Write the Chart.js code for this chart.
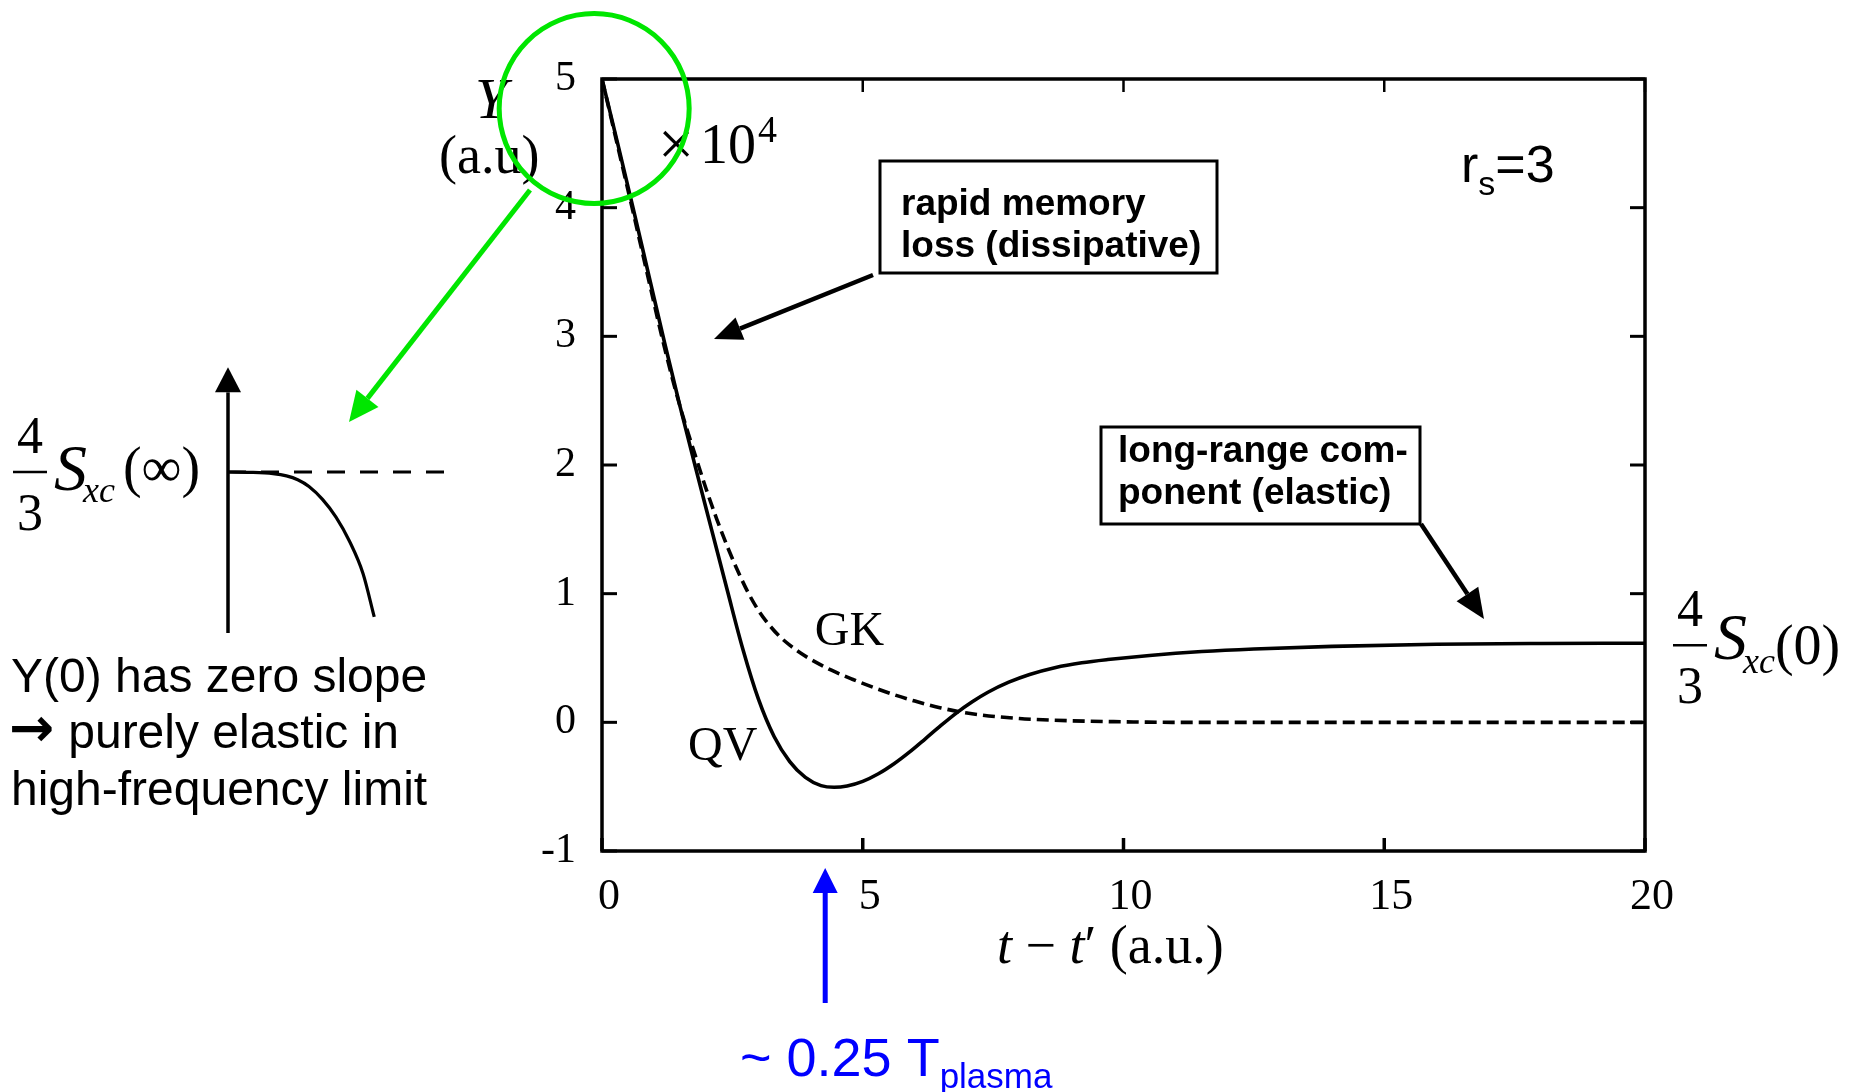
<!DOCTYPE html>
<html>
<head>
<meta charset="utf-8">
<title>Y(t - t') memory kernel, rs=3</title>
<script src="https://cdn.jsdelivr.net/npm/chart.js@4.4.1/dist/chart.umd.min.js"></script>
<style>
  html, body { margin: 0; padding: 0; background: #fff; }
  #wrap { position: relative; width: 1850px; height: 1092px; overflow: hidden; }
  canvas { position: absolute; }
  #mainChart { left: 0; top: 0; }
  #insetChart { left: 180px; top: 340px; }
</style>
</head>
<body>
<div id="wrap">
  <canvas id="mainChart" width="1850" height="1092"></canvas>
  <canvas id="insetChart" width="300" height="320"></canvas>
</div>
<script>
// QV kernel (solid)
const tQV = [0, 0.3, 0.6, 0.9, 1.2, 1.5, 1.8, 2.1, 2.4, 2.7, 3.0, 3.3, 3.6, 3.9, 4.2, 4.45, 4.7, 5.0, 5.3, 5.6,
             5.9, 6.2, 6.5, 6.8, 7.1, 7.4, 7.8, 8.2, 8.7, 9.2, 9.7, 10.5, 11.5, 12.5, 14, 16, 18, 20];
const yQV = [5, 4.5, 3.99, 3.47, 2.95, 2.45, 1.97, 1.5, 1.03, 0.57, 0.18, -0.11, -0.305, -0.428, -0.492, -0.505, -0.495, -0.459, -0.4, -0.322,
             -0.23, -0.128, -0.024, 0.074, 0.16, 0.234, 0.312, 0.372, 0.427, 0.463, 0.488, 0.52, 0.55, 0.57, 0.59, 0.607, 0.613, 0.615];

// GK kernel (dashed)
const tGK = [0, 0.3, 0.6, 0.9, 1.2, 1.5, 1.8, 2.0, 2.2, 2.4, 2.6, 2.8, 3.0, 3.2, 3.4, 3.6, 3.8, 4.0, 4.4, 4.8,
             5.2, 5.6, 6.0, 6.5, 7.0, 8.0, 9.0, 10, 11, 13, 20];
const yGK = [5, 4.48, 3.96, 3.43, 2.91, 2.45, 2.06, 1.81, 1.58, 1.37, 1.18, 1.01, 0.87, 0.76, 0.67, 0.6, 0.54, 0.49, 0.405, 0.335,
             0.272, 0.215, 0.165, 0.112, 0.072, 0.03, 0.012, 0.004, 0, 0, 0];

const xTicks = [0, 5, 10, 15, 20];
const yTicks = [-1, 0, 1, 2, 3, 4, 5];
const plateauQV = 0.615;    // 4/3 Sxc(0)
const quarterPeriod = 4.28; // ~0.25 T_plasma

// small sketch of Y near t = 0 (left)
const insetX = [0, 0.1, 0.2, 0.26, 0.31, 0.36, 0.42, 0.48, 0.54, 0.6, 0.65];
const insetY = [1, 0.998, 0.99, 0.976, 0.952, 0.91, 0.83, 0.72, 0.57, 0.37, 0.1];
const insetLevelX = [0, 1];
const insetLevelY = [1, 1];

const SERIF = "'Liberation Serif', 'DejaVu Serif', serif";
const SANS = "'Liberation Sans', Arial, sans-serif";

const toPts = (xs, ys) => xs.map((x, i) => ({ x: x, y: ys[i] }));

function line(ctx, x1, y1, x2, y2) {
  ctx.beginPath(); ctx.moveTo(x1, y1); ctx.lineTo(x2, y2); ctx.stroke();
}

function arrow(ctx, x1, y1, x2, y2, color, width, headLen, headW) {
  const a = Math.atan2(y2 - y1, x2 - x1);
  const bx = x2 - headLen * Math.cos(a), by = y2 - headLen * Math.sin(a);
  ctx.strokeStyle = color; ctx.fillStyle = color; ctx.lineWidth = width;
  line(ctx, x1, y1, bx, by);
  ctx.beginPath();
  ctx.moveTo(x2, y2);
  ctx.lineTo(bx + headW / 2 * Math.sin(a), by - headW / 2 * Math.cos(a));
  ctx.lineTo(bx - headW / 2 * Math.sin(a), by + headW / 2 * Math.cos(a));
  ctx.closePath(); ctx.fill();
}

// draws text pieces one after another: [text, font, dy, gapAfter]
function runs(ctx, x, y, parts) {
  parts.forEach(p => {
    ctx.font = p[1];
    ctx.fillText(p[0], x, y + (p[2] || 0));
    x += ctx.measureText(p[0]).width + (p[3] || 0);
  });
  return x;
}

function fraction(ctx, cx, barY, size) {
  ctx.font = size + 'px ' + SERIF;
  ctx.textAlign = 'center';
  ctx.fillText('4', cx, barY - 19);
  ctx.fillText('3', cx, barY + 58);
  ctx.textAlign = 'left';
  ctx.lineWidth = 2.5;
  line(ctx, cx - 17, barY, cx + 17, barY);
}

const framePlugin = {
  id: 'frame',
  afterDraw(chart) {
    const { ctx, chartArea: a, scales: { x, y } } = chart;
    ctx.save();
    ctx.strokeStyle = '#000';
    ctx.lineWidth = 3.5;
    ctx.strokeRect(a.left, a.top, a.right - a.left, a.bottom - a.top);
    ctx.lineWidth = 3;
    yTicks.forEach(v => {
      const py = y.getPixelForValue(v);
      line(ctx, a.left, py, a.left + 15, py);
      line(ctx, a.right - 15, py, a.right, py);
    });
    xTicks.forEach(v => {
      const px = x.getPixelForValue(v);
      ctx.lineWidth = 3.5;
      line(ctx, px, a.bottom - 13, px, a.bottom);
      ctx.lineWidth = 2.5;
      line(ctx, px, a.top, px, a.top + 13);
    });
    ctx.restore();
  }
};

const notesPlugin = {
  id: 'notes',
  afterDraw(chart) {
    const { ctx, chartArea: a, scales: { x, y } } = chart;
    ctx.save();
    ctx.fillStyle = '#000';
    ctx.strokeStyle = '#000';
    ctx.textBaseline = 'alphabetic';

    // axis titles
    runs(ctx, 475, 118, [['Y', 'italic 58px ' + SERIF]]);
    runs(ctx, 439, 173, [['(a.u)', '54px ' + SERIF]]);
    runs(ctx, 997, 963, [
      ['t', 'italic 54px ' + SERIF], [' \u2212 ', '54px ' + SERIF],
      ['t', 'italic 54px ' + SERIF], ['\u2032', '54px ' + SERIF], [' (a.u.)', '54px ' + SERIF]
    ]);
    runs(ctx, 658, 165, [['\u00d7', '64px ' + SERIF, 0, 6], ['10', '56px ' + SERIF, -2, 2], ['4', '38px ' + SERIF, -23]]);

    // curve labels
    ctx.font = '48px ' + SERIF;
    ctx.fillText('GK', x.getPixelForValue(4.08), y.getPixelForValue(0.6));
    ctx.fillText('QV', x.getPixelForValue(1.65), y.getPixelForValue(-0.29));

    runs(ctx, 1461, 182, [['r', '52px ' + SANS], ['s', '34px ' + SANS, 13], ['=3', '52px ' + SANS]]);

    // boxed notes
    ctx.lineWidth = 3;
    ctx.strokeRect(880, 161, 337, 112);
    ctx.strokeRect(1101, 427, 319, 97);
    ctx.font = 'bold 37px ' + SANS;
    ctx.fillText('rapid memory', 901, 215);
    ctx.fillText('loss (dissipative)', 901, 257);
    ctx.fillText('long-range com-', 1118, 462);
    ctx.fillText('ponent (elastic)', 1118, 504);
    arrow(ctx, 873, 275, 714, 339, '#000', 4.5, 28, 24);
    arrow(ctx, 1421, 524, 1484, 619, '#000', 4.5, 30, 26);

    // plateau label 4/3 Sxc(0)
    const by = y.getPixelForValue(plateauQV) + 2;
    fraction(ctx, 1690, by, 52);
    runs(ctx, 1714, by + 14, [['S', 'italic 66px ' + SERIF, 0, -4], ['xc', 'italic 36px ' + SERIF, 14], ['(0)', '56px ' + SERIF, 5]]);

    // left sketch labels
    fraction(ctx, 30, 472, 52);
    runs(ctx, 54, 490, [['S', 'italic 66px ' + SERIF, 0, -4], ['xc', 'italic 36px ' + SERIF, 12, 8], ['(\u221e)', '56px ' + SERIF, -4]]);
    ctx.font = '48px ' + SANS;
    ctx.fillText('Y(0) has zero slope', 11, 692);
    runs(ctx, 9, 748, [['\u2192', "bold 54px 'DejaVu Sans', sans-serif", -2, 14], ['purely elastic in', '48px ' + SANS]]);
    ctx.font = '48px ' + SANS;
    ctx.fillText('high-frequency limit', 11, 805);

    // quarter plasma period marker
    const bx = x.getPixelForValue(quarterPeriod);
    arrow(ctx, bx, 1003, bx, a.bottom + 17, '#0000ff', 5, 25, 25);
    ctx.fillStyle = '#0000ff';
    runs(ctx, 740, 1076, [['~ 0.25 T', '54px ' + SANS], ['plasma', '35px ' + SANS, 12]]);

    // highlight of the t = 0 region
    ctx.strokeStyle = '#00e600';
    ctx.lineWidth = 5;
    ctx.beginPath();
    ctx.arc(x.getPixelForValue(-0.15), y.getPixelForValue(4.77), 95, 0, Math.PI * 2);
    ctx.stroke();
    arrow(ctx, 530, 190, 349, 422, '#00e600', 5, 30, 28);
    ctx.restore();
  }
};

new Chart(document.getElementById('mainChart'), {
  type: 'line',
  data: {
    datasets: [
      { label: 'QV', data: toPts(tQV, yQV), borderColor: '#000', borderWidth: 3.6, pointRadius: 0,
        cubicInterpolationMode: 'monotone', fill: false },
      { label: 'GK', data: toPts(tGK, yGK), borderColor: '#000', borderWidth: 3.6, borderDash: [12, 6],
        pointRadius: 0, cubicInterpolationMode: 'monotone', fill: false }
    ]
  },
  options: {
    responsive: false,
    animation: false,
    devicePixelRatio: 1,
    layout: { padding: { left: 542, top: 79, right: 205, bottom: 161 } },
    plugins: { legend: { display: false }, tooltip: { enabled: false } },
    scales: {
      x: {
        type: 'linear', min: 0, max: 20,
        afterFit: s => { s.height = 80; },
        afterBuildTicks: s => { s.ticks = xTicks.map(v => ({ value: v })); },
        grid: { display: false, drawTicks: false },
        border: { display: false },
        ticks: { font: { family: SERIF, size: 44 }, color: '#000', padding: 20, labelOffset: 7,
                 maxRotation: 0, autoSkip: false }
      },
      y: {
        type: 'linear', min: -1, max: 5,
        afterFit: s => { s.width = 60; },
        afterBuildTicks: s => { s.ticks = yTicks.map(v => ({ value: v })); },
        grid: { display: false, drawTicks: false },
        border: { display: false },
        ticks: { font: { family: SERIF, size: 42 }, color: '#000', padding: 26, autoSkip: false }
      }
    }
  },
  plugins: [framePlugin, notesPlugin]
});

const insetAxis = {
  id: 'insetAxis',
  afterDraw(chart) {
    const { ctx, scales: { x, y } } = chart;
    const px = x.getPixelForValue(0);
    ctx.save();
    arrow(ctx, px, y.getPixelForValue(0), px, y.getPixelForValue(1.65), '#000', 3.5, 25, 26);
    ctx.restore();
  }
};

new Chart(document.getElementById('insetChart'), {
  type: 'line',
  data: {
    datasets: [
      { data: toPts(insetX, insetY), borderColor: '#000', borderWidth: 3.2, pointRadius: 0,
        cubicInterpolationMode: 'monotone', clip: false },
      { data: toPts(insetLevelX, insetLevelY), borderColor: '#000', borderWidth: 3, borderDash: [18, 15],
        pointRadius: 0, clip: false }
    ]
  },
  options: {
    responsive: false,
    animation: false,
    devicePixelRatio: 1,
    layout: { padding: { left: 48, right: 27, top: 132, bottom: 27 } },
    plugins: { legend: { display: false }, tooltip: { enabled: false } },
    scales: {
      x: { type: 'linear', min: 0, max: 1, display: false },
      y: { type: 'linear', min: 0, max: 1, display: false }
    }
  },
  plugins: [insetAxis]
});
</script>
</body>
</html>
